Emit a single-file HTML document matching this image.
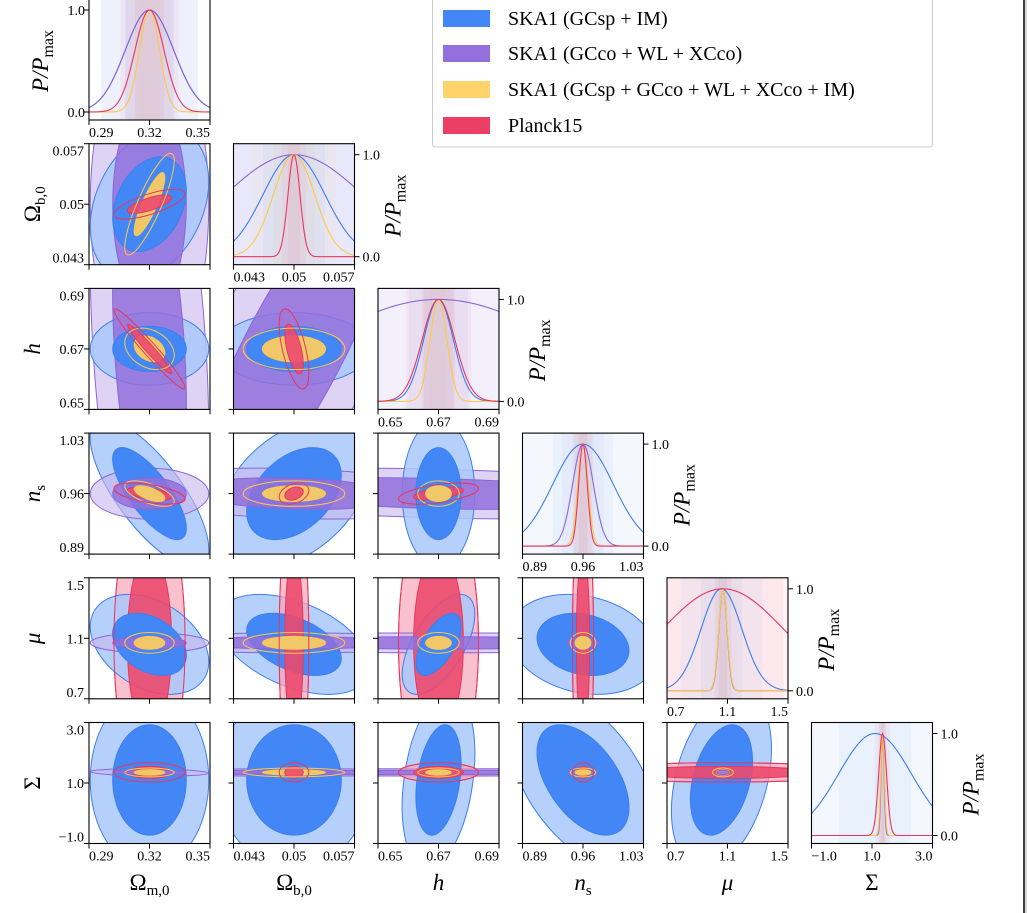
<!DOCTYPE html>
<html><head><meta charset="utf-8"><style>
html,body{margin:0;padding:0;background:#fff;}
svg{display:block;font-family:"Liberation Serif",serif;}
</style></head><body>
<svg id="fig" width="1027" height="913" viewBox="0 0 1027 913">
<rect x="0" y="0" width="1027" height="913" fill="#fff"/>
<rect x="1025" y="0" width="2" height="913" fill="#d8d8d8"/>
<line x1="1024" y1="0" x2="1024" y2="913" stroke="#000" stroke-width="1.5"/>
<g id="plots"></g>
<g id="legend">
<rect x="432.5" y="-2" width="500" height="149" fill="#fff" stroke="#ccc" rx="3"/>
<rect x="443" y="10" width="47" height="17" fill="#4287f5"/>
<text x="508" y="25" font-size="20">SKA1 (GCsp + IM)</text>
<rect x="443" y="45" width="47" height="17" fill="#9370db"/>
<text x="508" y="60" font-size="20">SKA1 (GCco + WL + XCco)</text>
<rect x="443" y="81" width="47" height="17" fill="#fdd36a"/>
<text x="508" y="96" font-size="20">SKA1 (GCsp + GCco + WL + XCco + IM)</text>
<rect x="443" y="117" width="47" height="17" fill="#ec3f66"/>
<text x="508" y="132" font-size="20">Planck15</text>
</g>
</svg>
<script>
// ---- data ----
const paramNames = ["Om","Ob","h","ns","mu","Sigma"];
const axisLo = [0.29, 0.043, 0.65, 0.89, 0.7, -1.0];
const axisHi = [0.35, 0.057, 0.69, 1.03, 1.5, 3.0];
const tickLabels = [["0.29","0.32","0.35"],["0.043","0.05","0.057"],["0.65","0.67","0.69"],["0.89","0.96","1.03"],["0.7","1.1","1.5"],["\u22121.0","1.0","3.0"]];
const centersBlue   = [0.32, 0.05, 0.67, 0.96, 1.06, 1.1];
const centersPurple = [0.32, 0.05, 0.67, 0.96, 1.07, 1.35];
const centersYellow = [0.32, 0.05, 0.67, 0.96, 1.07, 1.35];
const centersRed    = [0.32, 0.05, 0.67, 0.96, 1.07, 1.35];
const sigmaBlue   = [0.012, 0.0036, 0.0049, 0.035, 0.135, 1.2];
const sigmaPurple = [0.012, 0.008, 0.04, 0.012, 0.027, 0.05];
const sigmaYellow = [0.005, 0.0024, 0.0028, 0.006, 0.028, 0.06];
const sigmaRed    = [0.0072, 0.0007, 0.0054, 0.005, 0.4, 0.13];
const corrBlue   = [[0,1,0.3],[0,3,-0.75],[0,4,-0.35],[1,3,0.4],[1,4,-0.45],[2,4,0.6],[2,5,0.3],[3,4,-0.2],[3,5,-0.5],[4,5,0.35]];
const corrPurple = [[1,2,0.85],[0,2,-0.3],[2,3,-0.3],[1,3,-0.2],[0,5,-0.2]];
const corrYellow = [[0,1,0.85],[0,3,-0.6],[0,2,-0.3]];
const corrRed    = [[0,1,0.7],[0,2,-0.97],[1,2,-0.6],[2,3,0.5],[0,3,-0.5],[1,3,0.3]];

const exps = [
 {name:"blue", c:centersBlue, s:sigmaBlue, r:corrBlue, dark:"#4287f5", light:"#a9c8fb", lightOp:0.85, darkOp:1, stroke:"#3d7ef0", fillLight:true},
 {name:"purple", c:centersPurple, s:sigmaPurple, r:corrPurple, dark:"#9370db", light:"#c8b6ec", lightOp:0.6, darkOp:0.85, stroke:"#8a66d6", fillLight:true},
 {name:"yellow", c:centersYellow, s:sigmaYellow, r:corrYellow, dark:"#f0c86a", light:"#fdd36a", lightOp:0, darkOp:1, stroke:"#fdc84a", fillLight:false},
 {name:"red", c:centersRed, s:sigmaRed, r:corrRed, dark:"#ec4a6e", light:"#f6a7b8", lightOp:0.7, darkOp:0.9, stroke:"#e8365e", fillLight:true}
];

// ---- layout ----
const NS="http://www.w3.org/2000/svg";
const S=121;
function pLeft(j){return 89+144.5*j;}
function pTop(i){return -1+144.7*i;}
function xmap(j,v){return pLeft(j)+(v-axisLo[j])/(axisHi[j]-axisLo[j])*S;}
function ymap(i,v){return pTop(i)+S-(v-axisLo[i])/(axisHi[i]-axisLo[i])*S;}
function pxPer(k){return S/(axisHi[k]-axisLo[k]);}
function mk(tag,attrs,parent){const e=document.createElementNS(NS,tag);for(const k in attrs)e.setAttribute(k,attrs[k]);parent.appendChild(e);return e;}
function corr(e,a,b){for(const p of e.r){if((p[0]===a&&p[1]===b)||(p[0]===b&&p[1]===a))return p[2];}return 0;}
const root=document.getElementById('plots');
const defs=mk('defs',{},root);

function area(e,j,i){const sx=e.s[j]*pxPer(j), sy=e.s[i]*pxPer(i), r=corr(e,j,i);return sx*sy*Math.sqrt(Math.max(1-r*r,1e-6));}
function ellipse(g,e,j,i,k,fill,op,stroke){
  const sx=e.s[j]*pxPer(j), sy=e.s[i]*pxPer(i), r=corr(e,j,i);
  const a=sx*sx, d=sy*sy, b=-r*sx*sy;
  const tr=(a+d)/2, df=Math.sqrt(((a-d)/2)**2+b*b);
  const l1=tr+df, l2=Math.max(tr-df,1e-6);
  const th=0.5*Math.atan2(2*b,a-d)*180/Math.PI;
  const cx=xmap(j,e.c[j]), cy=ymap(i,e.c[i]);
  const en=mk('ellipse',{cx:cx,cy:cy,rx:k*Math.sqrt(l1),ry:k*Math.sqrt(l2),transform:`rotate(${th} ${cx} ${cy})`,fill:fill,'fill-opacity':op,stroke:stroke,'stroke-width':1},g);
  
  
}
function txt(parent,x,y,s,size,anchor,name){
  const t=mk('text',{x:x,y:y,'font-size':size,'text-anchor':anchor},parent);
  t.textContent=s;
  
  
  return t;
}
const K1=1.52, K2=2.45;

for(let i=0;i<6;i++){
  for(let j=0;j<=i;j++){
    const g=mk('g',{},root);
    
    
    const L=pLeft(j), T=pTop(i);
    const cid='clip'+i+'_'+j;
    const cp=mk('clipPath',{id:cid},defs); mk('rect',{x:L,y:T,width:S,height:S},cp);
    const inner=mk('g',{'clip-path':`url(#${cid})`},g);
    if(i===j){
      const y0=T+S-8, yh=102;
      for(const e of exps){
        const c=e.c[j], s=e.s[j];
        for(const m of [2,1]){
          const r=mk('rect',{x:xmap(j,c-m*s),y:T,width:xmap(j,c+m*s)-xmap(j,c-m*s),height:S,fill:e.dark,'fill-opacity':0.06},inner);
          
          
        }
      }
      for(const e of exps){
        const c=e.c[j], s=e.s[j]; let pts=[];
        for(let n=0;n<=160;n++){const v=axisLo[j]+(axisHi[j]-axisLo[j])*n/160;pts.push(xmap(j,v).toFixed(2)+','+(y0-yh*Math.exp(-0.5*((v-c)/s)**2)).toFixed(2));}
        const pl=mk('polyline',{points:pts.join(' '),fill:'none',stroke:e.stroke,'stroke-width':1.1},inner);
        
        
      }
      if(i===0){
        for(const [v,l] of [[1,'1.0'],[0,'0.0']]){const yy=y0-yh*v;mk('line',{x1:L-5,y1:yy,x2:L,y2:yy,stroke:'#000'},g);txt(g,L-4,yy+5,l,14,'end','y-tick-label');}
      }else{
        for(const [v,l] of [[1,'1.0'],[0,'0.0']]){const yy=y0-yh*v;mk('line',{x1:L+S,y1:yy,x2:L+S+5,y2:yy,stroke:'#000'},g);txt(g,L+S+8,yy+5,l,14,'start','y-tick-label');}
      }
      const px=i===0?48:L+S+46, py=T+62;
      const t=mk('text',{x:px,y:py,'font-size':23,'text-anchor':'middle','font-style':'italic',transform:`rotate(-90 ${px} ${py})`},g);
      
      
      t.appendChild(document.createTextNode('P/P'));
      const ts=mk('tspan',{'font-size':16,'font-style':'normal',dy:5},t); ts.textContent='max';
    }else{
      const sorted=exps.slice().sort((a,b)=>area(b,j,i)-area(a,j,i));
      for(const e of sorted){ if(e.fillLight) ellipse(inner,e,j,i,K2,e.light,e.lightOp,e.stroke); }
      for(const e of sorted){ ellipse(inner,e,j,i,K1,e.dark,e.darkOp,e.stroke); }
      for(const e of exps){ if(!e.fillLight) ellipse(inner,e,j,i,K2,'none',0,e.stroke); }
      ellipse(inner,exps[3],j,i,K2,'none',0,exps[3].stroke);
      for(let q=0;q<3;q++){const yy=T+S-q*S/2;mk('line',{x1:L-5,y1:yy,x2:L,y2:yy,stroke:'#000'},g);}
      if(j===0){
        const labs=tickLabels[i];
        txt(g,L-5,T+S-2,labs[0],14,'end','y-tick-label');
        txt(g,L-5,T+S/2+5,labs[1],14,'end','y-tick-label');
        txt(g,L-5,T+12,labs[2],14,'end','y-tick-label');
      }
    }
    mk('rect',{x:L,y:T,width:S,height:S,fill:'none',stroke:'#000','stroke-width':1.1},g);
    for(let q=0;q<3;q++){const xx=L+q*S/2;mk('line',{x1:xx,y1:T+S,x2:xx,y2:T+S+5,stroke:'#000'},g);}
    if(i===5||i===j){
      const labs=tickLabels[j], yy=T+S+17;
      txt(g,L,yy,labs[0],14,'start','x-tick-label');
      txt(g,L+S/2,yy,labs[1],14,'middle','x-tick-label');
      txt(g,L+S,yy,labs[2],14,'end','x-tick-label');
    }
  }
}
// axis titles
const xt=[['Ω','m,0',false],['Ω','b,0',false],['h','',true],['n','s',true],['μ','',true],['Σ','',false]];
function title(t,k){
  const a=mk('tspan',{'font-style':xt[k][2]?'italic':'normal'},t); a.textContent=xt[k][0];
  if(xt[k][1]){const b=mk('tspan',{'font-size':15,dy:5},t); b.textContent=xt[k][1];}
}
for(let j=0;j<6;j++){
  const cx=pLeft(j)+S/2;
  const t=mk('text',{x:cx,y:890,'font-size':23,'text-anchor':'middle'},root);
  
  
  title(t,j);
  if(j>0){
    const cy=pTop(j)+S/2, x=40;
    const ty=mk('text',{x:x,y:cy,'font-size':23,'text-anchor':'middle',transform:`rotate(-90 ${x} ${cy})`},root);
    
    
    title(ty,j);
  }
}
</script>
</body></html>
